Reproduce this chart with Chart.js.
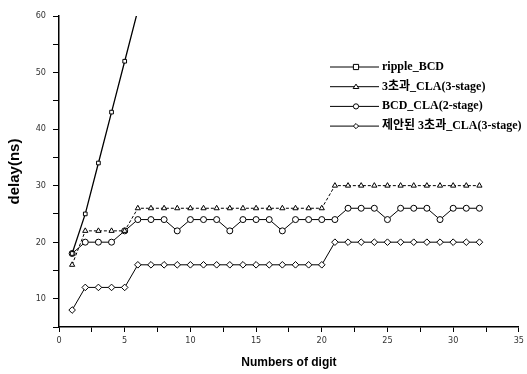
<!DOCTYPE html>
<html>
<head>
<meta charset="utf-8">
<script src="https://cdn.jsdelivr.net/npm/chart.js@4"></script>
<style>
  html, body { margin: 0; padding: 0; background: #fff; }
  #wrap { width: 527px; height: 374px; position: relative; }
</style>
</head>
<body>
<div id="wrap"><canvas id="delayChart"></canvas></div>
<script>
// data
const digits = [1, 2, 3, 4, 5, 6, 7, 8, 9, 10, 11, 12, 13, 14, 15, 16,
  17, 18, 19, 20, 21, 22, 23, 24, 25, 26, 27, 28, 29, 30, 31, 32];
const rippleBCD = [18, 25, 34, 43, 52, 61]; // only the first digits fit under 60
const excess3CLA = [16, 22, 22, 22, 22, 26, 26, 26, 26, 26, 26, 26, 26, 26, 26, 26,
  26, 26, 26, 26, 30, 30, 30, 30, 30, 30, 30, 30, 30, 30, 30, 30];
const bcdCLA = [18, 20, 20, 20, 22, 24, 24, 24, 22, 24, 24, 24, 22, 24, 24, 24,
  22, 24, 24, 24, 24, 26, 26, 26, 24, 26, 26, 26, 24, 26, 26, 26];
const proposedCLA = [8, 12, 12, 12, 12, 16, 16, 16, 16, 16, 16, 16, 16, 16, 16, 16,
  16, 16, 16, 16, 20, 20, 20, 20, 20, 20, 20, 20, 20, 20, 20, 20];
const seriesNames = ["ripple_BCD", "3초과_CLA(3-stage)", "BCD_CLA(2-stage)", "제안된 3초과_CLA(3-stage)"];
const xTicks = [0, 5, 10, 15, 20, 25, 30, 35];
const yTicks = [10, 20, 30, 40, 50, 60];

const toPoints = (vals) => vals.map((v, i) => ({ x: digits[i], y: v }));

function makeSet(label, vals, style, radius, dash, width) {
  return {
    label: label,
    data: toPoints(vals),
    borderColor: "#000",
    borderWidth: width,
    borderDash: dash,
    pointStyle: style,
    pointRadius: radius,
    pointBackgroundColor: "#fff",
    pointBorderColor: "#000",
    pointBorderWidth: 1,
    tension: 0,
  };
}

// little marker drawer for the legend
function marker(ctx, style, x, y, r) {
  ctx.beginPath();
  if (style === "rect") {
    ctx.rect(x - r, y - r, r * 2, r * 2);
  } else if (style === "triangle") {
    ctx.moveTo(x, y - r);
    ctx.lineTo(x + r * 1.1, y + r * 0.7);
    ctx.lineTo(x - r * 1.1, y + r * 0.7);
    ctx.closePath();
  } else if (style === "rectRot") {
    ctx.moveTo(x, y - r);
    ctx.lineTo(x + r, y);
    ctx.lineTo(x, y + r);
    ctx.lineTo(x - r, y);
    ctx.closePath();
  } else {
    ctx.arc(x, y, r, 0, Math.PI * 2);
  }
  ctx.fillStyle = "#fff";
  ctx.fill();
  ctx.stroke();
}

const legendPlugin = {
  id: "lineLegend",
  afterDraw(chart) {
    const ctx = chart.ctx;
    ctx.save();
    ctx.strokeStyle = "#000";
    ctx.lineWidth = 1;
    ctx.font = "bold 12px 'Liberation Serif', 'Noto Sans CJK KR', serif";
    ctx.textBaseline = "middle";
    chart.data.datasets.forEach((ds, i) => {
      const y = 67 + i * 19.7;
      ctx.beginPath();
      ctx.moveTo(330, y);
      ctx.lineTo(379, y);
      ctx.stroke();
      marker(ctx, ds.pointStyle, 356, y, 2.6);
      ctx.fillStyle = "#000";
      ctx.fillText(ds.label, 382, y);
    });
    ctx.restore();
  },
};

new Chart(document.getElementById("delayChart").getContext("2d"), {
  type: "line",
  data: {
    datasets: [
      makeSet(seriesNames[0], rippleBCD, "rect", 2.6, [], 1.3),
      makeSet(seriesNames[1], excess3CLA, "triangle", 3, [3, 2], 1),
      makeSet(seriesNames[2], bcdCLA, "circle", 3, [], 1),
      makeSet(seriesNames[3], proposedCLA, "rectRot", 3.3, [], 1),
    ],
  },
  options: {
    responsive: true,
    maintainAspectRatio: false,
    animation: false,
    layout: { padding: { left: 0, right: 7, top: 16, bottom: 0 } },
    plugins: {
      legend: { display: false },
      tooltip: { enabled: false },
    },
    scales: {
      x: {
        type: "linear",
        min: 0,
        max: 35,
        afterFit: (scale) => { scale.height = 47; },
        afterBuildTicks: (scale) => {
          const t = [];
          for (let v = 0; v <= 35; v += 2.5) t.push({ value: v });
          scale.ticks = t;
        },
        ticks: {
          autoSkip: false,
          maxRotation: 0,
          padding: 3,
          color: "#333",
          font: { family: "'Liberation Sans Narrow', 'DejaVu Sans Condensed', sans-serif", size: 9 },
          callback: (v) => (xTicks.includes(v) ? String(v) : ""),
        },
        grid: { drawOnChartArea: false, color: "#000", tickLength: 5 },
        border: { color: "#000", width: 1.5 },
        title: {
          display: true,
          text: "Numbers of digit",
          color: "#000",
          padding: { top: 0, bottom: 4 },
          font: { family: "'Liberation Sans Narrow', 'Liberation Sans', sans-serif", size: 12, weight: "bold" },
        },
      },
      y: {
        min: 5,
        max: 60,
        afterFit: (scale) => { scale.width = 59; },
        afterBuildTicks: (scale) => {
          const t = [];
          for (let v = 5; v <= 60; v += 5) t.push({ value: v });
          scale.ticks = t;
        },
        ticks: {
          autoSkip: false,
          padding: 7,
          color: "#333",
          font: { family: "'Liberation Sans Narrow', 'DejaVu Sans Condensed', sans-serif", size: 9 },
          callback: (v) => (yTicks.includes(v) ? String(v) : ""),
        },
        grid: { drawOnChartArea: false, color: "#000", tickLength: 6 },
        border: { color: "#000", width: 1.5 },
        title: {
          display: true,
          text: "delay(ns)",
          color: "#000",
          padding: { top: 6, bottom: 0 },
          font: { family: "'Liberation Sans', Arial, sans-serif", size: 15, weight: "bold" },
        },
      },
    },
  },
  plugins: [legendPlugin],
});
</script>
</body>
</html>
